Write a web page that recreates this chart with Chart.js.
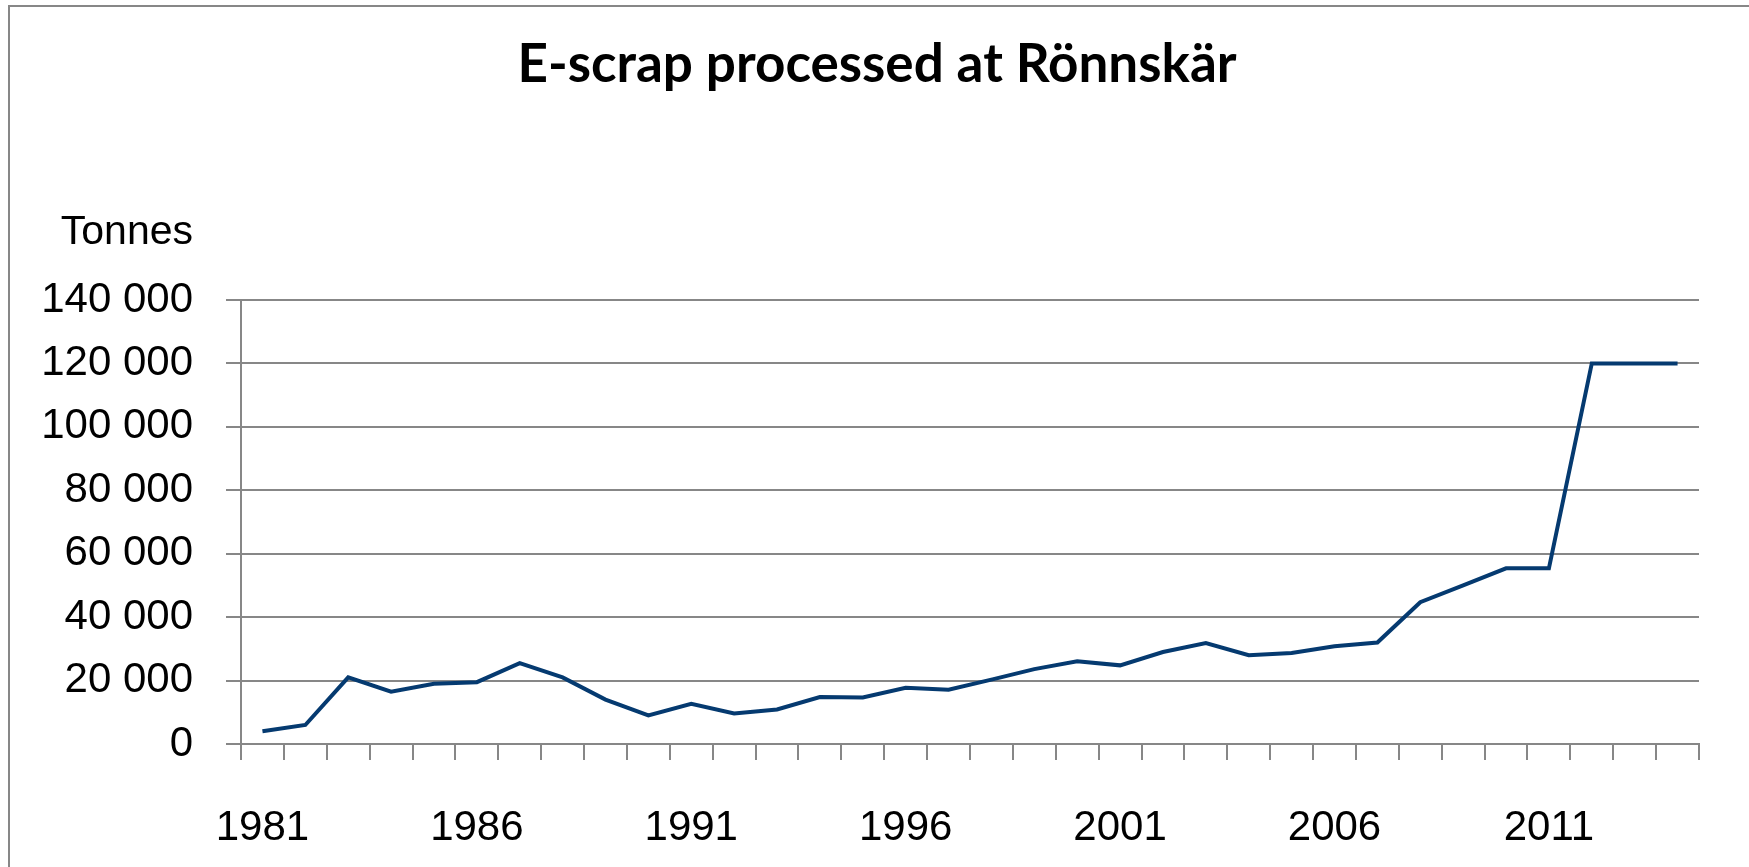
<!DOCTYPE html>
<html>
<head>
<meta charset="utf-8">
<script src="https://cdn.jsdelivr.net/npm/chart.js@4.4.1/dist/chart.umd.min.js"></script>
<style>
html,body{margin:0;padding:0;background:#fff;overflow:hidden;}
#wrap{position:absolute;left:0;top:0;width:1749px;height:867px;}
</style>
</head>
<body>
<div id="wrap"><canvas id="c" width="1749" height="867"></canvas></div>
<script>
const years = [1981,1982,1983,1984,1985,1986,1987,1988,1989,1990,1991,1992,1993,1994,1995,1996,1997,1998,1999,2000,2001,2002,2003,2004,2005,2006,2007,2008,2009,2010,2011,2012,2013,2014];
const tonnes = [4000,6000,21000,16500,19000,19500,25500,21000,14000,9000,12700,9600,10900,14800,14700,17700,17100,20300,23600,26100,24800,29000,31800,28000,28700,30800,32000,44700,50000,55400,55400,120000,120000,120000];
const yTicks = [0,20000,40000,60000,80000,100000,120000,140000];
const titleText = 'E-scrap processed at Rönnskär';
const unitText = 'Tonnes';

const GRID = '#878787';
const fmt = v => String(v).replace(/\B(?=(\d{3})+(?!\d))/g, ' ');

const decor = {
  id: 'decor',
  beforeDraw(chart) {
    const ctx = chart.ctx;
    ctx.save();
    ctx.fillStyle = '#fff';
    ctx.fillRect(0, 0, chart.width, chart.height);
    ctx.strokeStyle = GRID;
    ctx.lineWidth = 2;
    ctx.beginPath();
    ctx.moveTo(9, 867);
    ctx.lineTo(9, 6);
    ctx.lineTo(1749, 6);
    ctx.stroke();
    ctx.restore();
  },
  afterDraw(chart) {
    const ctx = chart.ctx;
    ctx.save();
    ctx.fillStyle = '#000';
    ctx.font = 'bold 53px Lato, "Liberation Sans", sans-serif';
    ctx.textAlign = 'center';
    ctx.textBaseline = 'alphabetic';
    ctx.fillText(titleText, 877, 82);
    ctx.font = '41px "Liberation Sans", Arial, sans-serif';
    ctx.textAlign = 'right';
    ctx.fillText(unitText, 193, 244);
    ctx.restore();
  }
};

new Chart(document.getElementById('c'), {
  type: 'line',
  data: {
    labels: years,
    datasets: [{
      data: tonnes,
      borderColor: '#053a70',
      borderWidth: 4,
      pointRadius: 0,
      tension: 0,
      fill: false
    }]
  },
  options: {
    responsive: false,
    animation: false,
    devicePixelRatio: 1,
    layout: { padding: { top: 300, right: 50, left: 0, bottom: 0 } },
    plugins: { legend: { display: false }, title: { display: false }, tooltip: { enabled: false } },
    scales: {
      x: {
        type: 'category',
        offset: true,
        grid: { offset: true, drawOnChartArea: false, drawTicks: true, tickLength: 16, color: GRID, lineWidth: 2 },
        border: { display: true, color: GRID, width: 2 },
        ticks: {
          autoSkip: false, maxRotation: 0, minRotation: 0, padding: 43,
          color: '#000',
          font: { family: '"Liberation Sans", Arial, sans-serif', size: 42 },
          callback: function(val, idx) { return idx % 5 === 0 ? String(years[idx]) : ''; }
        },
        afterFit(scale) { scale.height = 123; }
      },
      y: {
        min: 0, max: 140000,
        afterBuildTicks(scale) { scale.ticks = yTicks.map(v => ({ value: v })); },
        grid: { drawTicks: true, tickLength: 15, color: GRID, lineWidth: 2 },
        border: { display: true, color: GRID, width: 2 },
        ticks: {
          padding: 33, color: '#000',
          font: { family: '"Liberation Sans", Arial, sans-serif', size: 42 },
          callback: v => fmt(v)
        },
        afterFit(scale) { scale.width = 241; }
      }
    }
  },
  plugins: [decor]
});
</script>
</body>
</html>
